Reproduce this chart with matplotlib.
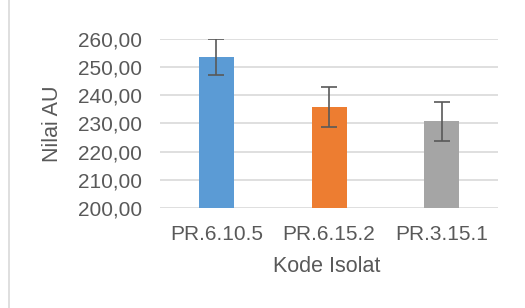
import matplotlib.pyplot as plt
from matplotlib.patches import Rectangle

plt.rcParams['font.family'] = ['Liberation Sans', 'DejaVu Sans']

isolat = ['PR.6.10.5', 'PR.6.15.2', 'PR.3.15.1']
nilai_au = [253.6, 235.9, 230.8]
galat = [6.5, 7.2, 7.0]
warna = ['#5b9bd5', '#ed7d31', '#a5a5a5']
yticks = [200, 210, 220, 230, 240, 250, 260]

fig = plt.figure(figsize=(5.25, 3.08), dpi=100)
ax = fig.add_axes([0.305, 0.3247, 0.6436, 0.5487])

ax.bar(range(len(isolat)), nilai_au, width=0.31, color=warna, zorder=3,
       yerr=galat, error_kw=dict(ecolor='#595959', elinewidth=1.2, capsize=6, capthick=1.2, zorder=4))

ax.set_ylim(200, 260)
ax.set_xlim(-0.5, 2.5)
ax.set_yticks(yticks)
ax.set_yticklabels([f'{v:.2f}'.replace('.', ',') for v in yticks])
ax.set_xticks(range(len(isolat)))
ax.set_xticklabels(isolat)
ax.yaxis.grid(True, color='#d9d9d9', linewidth=1.2, zorder=0)
for s in ax.spines.values():
    s.set_visible(False)
ax.tick_params(axis='y', length=0, pad=13, labelsize=15, labelcolor='#595959')
ax.tick_params(axis='x', length=0, pad=12, labelsize=15, labelcolor='#595959')

fig.text(53 / 525, 1 - 124 / 308, 'Nilai AU', rotation=90, ha='center', va='center',
         fontsize=15.5, color='#595959')
fig.text(327 / 525, 1 - 267 / 308, 'Kode Isolat', ha='center', va='center',
         fontsize=15.5, color='#595959')

fig.patches.append(Rectangle((9 / 525, -0.2), 1.2, 1.2 + 1 - 11 / 308, transform=fig.transFigure,
                             fill=False, edgecolor='#d9d9d9', linewidth=1.2))

fig.savefig('out.png', dpi=100)
